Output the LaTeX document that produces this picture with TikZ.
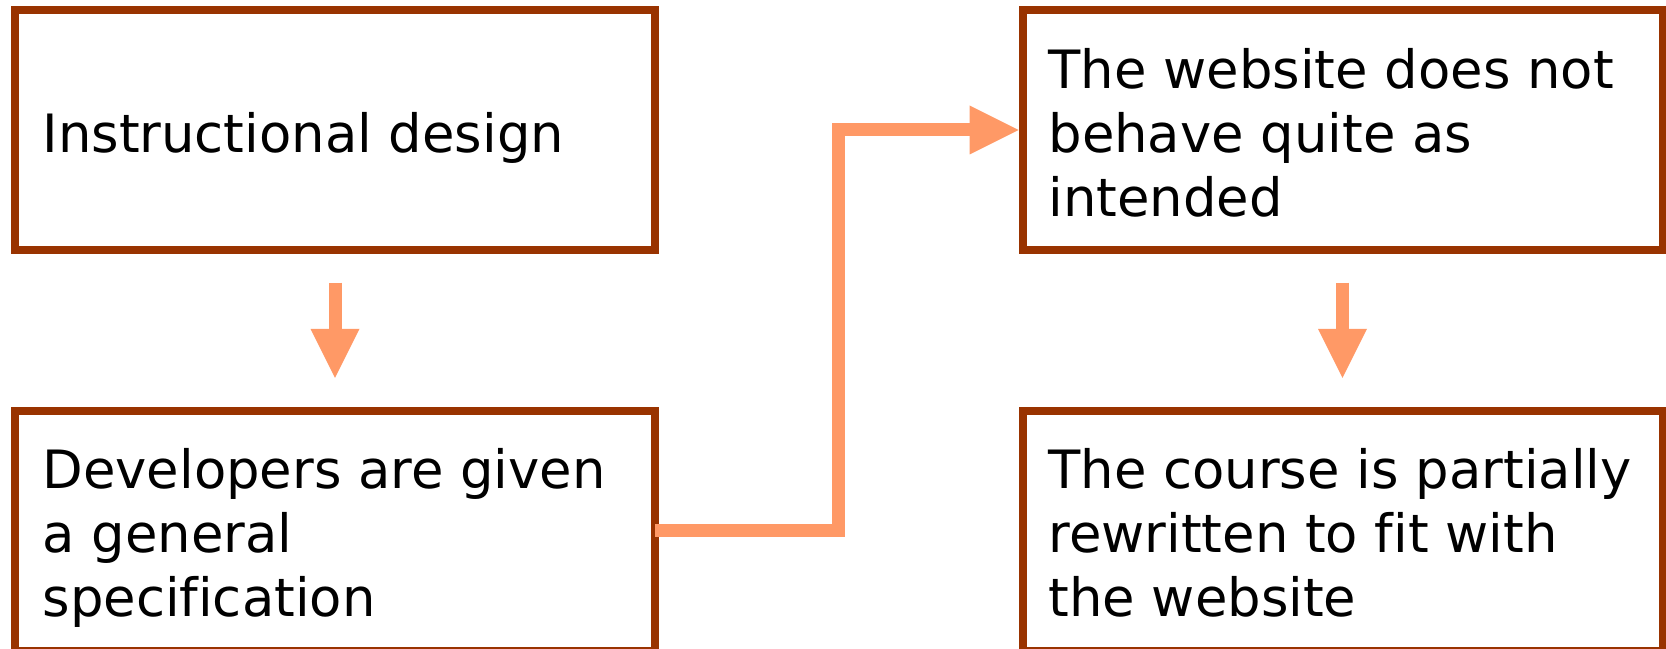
\documentclass[tikz,border=0pt]{standalone}
\usepackage{fontspec}
\setmainfont{DejaVu Sans}[Ligatures=NoCommon]
\usetikzlibrary{arrows.meta,calc,positioning}

\definecolor{boxbrown}{RGB}{153,51,0}
\definecolor{floworange}{RGB}{255,153,102}

\tikzset{every picture/.style={line width=0.75pt}}
\tikzset{
  box/.style={draw=boxbrown, line width=6pt, rectangle, outer sep=0pt, minimum width=480pt, minimum height=180pt},
  txt/.style={anchor=north west, inner sep=0pt, align=left, font=\fontsize{39.6pt}{48pt}\selectfont},
  flow/.style={draw=floworange, line width=9.75pt, line join=miter, -{Triangle[length=36.75pt,width=36.75pt,line width=0pt]}}
}

\begin{document}
\begin{tikzpicture}[x=0.75pt,y=0.75pt,yscale=-1,xscale=1]
\useasboundingbox (0,0) rectangle (1666,649);

%Boxes
\node[box] (design) at (335,130) {};
\node[box] (spec) at (335,530.5) {};
\node[box] (site) at (1342.5,130) {};
\node[box] (course) at (1342.5,530.5) {};

% Text Node
\node[txt] (designtxt) at ([shift={(27,102)}]design.north west) {Instructional design};
% Text Node
\node[txt] (spectxt) at ([shift={(27,37)}]spec.north west) {Developers are given\\a general\\specification};
% Text Node
\node[txt] (sitetxt) at ([shift={(25.5,38)}]site.north west) {The website does not\\behave quite as\\intended};
% Text Node
\node[txt] (coursetxt) at ([shift={(25.5,37)}]course.north west) {The course is partially\\rewritten to fit with\\the website};

%Arrows
\draw[flow, shorten <=24.5pt, shorten >=24.5pt] (design.south) -- (spec.north);
\draw[flow, shorten <=24.5pt, shorten >=24.5pt] (site.south) -- (course.north);
\coordinate (bend) at ($(spec.east)!0.5!(site.west)$);
\draw[flow, shorten >=3pt] (spec.east) -| (bend) |- (site.west);

\end{tikzpicture}
\end{document}
